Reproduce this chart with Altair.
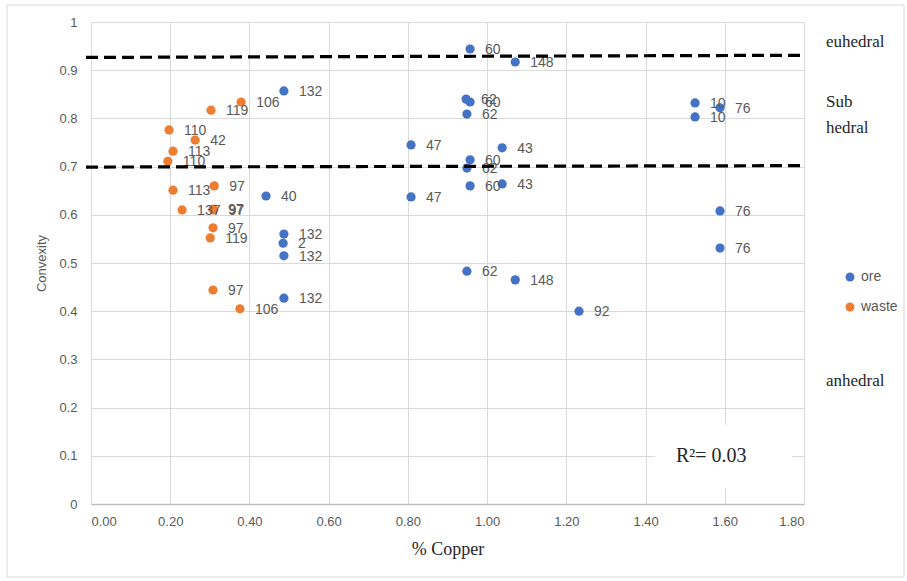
import altair as alt
import pandas as pd

# Ore samples: copper grade, convexity and sample number
ore_cu = [0.487, 0.442, 0.487, 0.485, 0.487, 0.487, 0.957, 1.071, 0.947, 0.957,
          0.949, 0.808, 1.038, 0.957, 0.949, 0.957, 1.038, 0.808, 0.949, 1.071,
          1.232, 1.525, 1.525, 1.588, 1.588, 1.588]
ore_cvx = [0.857, 0.639, 0.560, 0.541, 0.515, 0.427, 0.944, 0.917, 0.840, 0.834,
           0.809, 0.745, 0.739, 0.714, 0.697, 0.660, 0.664, 0.637, 0.483, 0.465,
           0.400, 0.832, 0.803, 0.822, 0.608, 0.531]
ore_lbl = ["132", "40", "132", "2", "132", "132", "60", "148", "62", "60",
           "62", "47", "43", "60", "62", "60", "43", "47", "62", "148",
           "92", "10", "10", "76", "76", "76"]

# Waste samples
waste_cu = [0.379, 0.303, 0.197, 0.263, 0.207, 0.194, 0.311, 0.207, 0.230, 0.308,
            0.310, 0.308, 0.301, 0.308, 0.376]
waste_cvx = [0.834, 0.817, 0.776, 0.755, 0.732, 0.711, 0.660, 0.651, 0.610, 0.612,
             0.610, 0.573, 0.552, 0.444, 0.405]
waste_lbl = ["106", "119", "110", "42", "113", "110", "97", "113", "137", "97",
             "97", "97", "119", "97", "106"]

# Crystal-habit boundaries (convexity at left and right ends of each dashed line)
bound_left = [0.9265, 0.699]
bound_right = [0.931, 0.702]

# Habit zone names and the convexity they sit at
zone_names = ["euhedral", "Sub", "hedral", "anhedral"]
zone_cvx = [0.958, 0.833, 0.781, 0.255]

r2_text = "R²= 0.03"
x_title = "% Copper"

series = ["ore", "waste"]
colors = ["#4472C4", "#ED7D31"]

df = pd.concat([
    pd.DataFrame({"cu": ore_cu, "cvx": ore_cvx, "lbl": ore_lbl, "type": "ore"}),
    pd.DataFrame({"cu": waste_cu, "cvx": waste_cvx, "lbl": waste_lbl, "type": "waste"}),
], ignore_index=True)

bounds = pd.DataFrame({"y1": bound_left, "y2": bound_right})
zones = pd.DataFrame({"name": zone_names, "cvx": zone_cvx})

SANS = "Liberation Sans"
SERIF = "Liberation Serif"
GRID = "#D9D9D9"

x_scale = alt.Scale(domain=[0, 1.8], nice=False, zero=True)
y_scale = alt.Scale(domain=[0, 1], nice=False)

x_enc = alt.X("cu:Q", scale=x_scale, axis=alt.Axis(
    title=None, values=[0, 0.2, 0.4, 0.6, 0.8, 1.0, 1.2, 1.4, 1.6, 1.8],
    format=".2f", grid=True, gridColor=GRID, ticks=False,
    domainColor="#BFBFBF", domainWidth=1.5, labelPadding=11))
y_enc = alt.Y("cvx:Q", scale=y_scale, axis=alt.Axis(
    title="Convexity", values=[i / 10 for i in range(11)], format=".1~f",
    grid=True, gridColor=GRID, ticks=False, domain=False,
    labelPadding=14, titlePadding=10))

base = alt.Chart(df)

points = base.mark_point(filled=True, shape="circle", size=85, opacity=1).encode(
    x=x_enc, y=y_enc,
    color=alt.Color("type:N", scale=alt.Scale(domain=series, range=colors),
                    legend=alt.Legend(title=None, orient="none", legendX=752, legendY=248,
                                      symbolType="circle", symbolSize=80,
                                      labelFont=SANS, labelFontSize=14, labelColor="#595959",
                                      labelOffset=4, rowPadding=16)),
)

labels = base.mark_text(align="left", baseline="middle", dx=15, dy=1,
                        font=SANS, fontSize=14, color="#595959").encode(
    x=alt.X("cu:Q", scale=x_scale),
    y=alt.Y("cvx:Q", scale=y_scale),
    text="lbl:N")

dashes = alt.Chart(bounds).mark_rule(color="black", strokeWidth=3.2,
                                     strokeDash=[12, 6]).encode(
    x=alt.value(-5), x2=alt.value(715),
    y=alt.Y("y1:Q", scale=y_scale), y2=alt.Y2("y2:Q"))

zone_text = alt.Chart(zones).mark_text(align="left", baseline="middle",
                                       font=SERIF, fontSize=17, color="#262626").encode(
    x=alt.value(735), y=alt.Y("cvx:Q", scale=y_scale), text="name:N")

r2_box = alt.Chart(pd.DataFrame({"t": [r2_text]})).mark_rect(
    fill="white", stroke=None).encode(
    x=alt.value(564), x2=alt.value(701), y=alt.value(403), y2=alt.value(466))

r2_label = alt.Chart(pd.DataFrame({"t": [r2_text]})).mark_text(
    align="left", baseline="middle", font=SERIF, fontSize=20, color="#262626").encode(
    x=alt.value(585), y=alt.value(434), text="t:N")

# x-axis title drawn as serif text under the tick labels
x_title_mark = alt.Chart(pd.DataFrame({"t": [x_title]})).mark_text(
    align="center", baseline="middle", font=SERIF, fontSize=18, color="#262626").encode(
    x=alt.value(357), y=alt.value(528), text="t:N")

frame = alt.Chart(pd.DataFrame({"t": [0]})).mark_rect(
    fill=None, stroke="#D9D9D9", strokeWidth=1).encode(
    x=alt.value(-84), x2=alt.value(813), y=alt.value(-17), y2=alt.value(555))

chart = (
    alt.layer(frame, points, labels, dashes, r2_box, r2_label, zone_text, x_title_mark)
    .properties(
        width=713, height=482,
        autosize=alt.AutoSizeParams(type="none"),
        padding={"left": 91, "top": 22, "right": 103, "bottom": 77},
        background="white",
    )
    .configure_view(stroke=None)
    .configure_axisX(labelFont=SANS, labelFontSize=13, labelColor="#595959")
    .configure_axisY(labelFont=SANS, labelFontSize=13, labelColor="#595959",
                     titleFont=SANS, titleFontSize=13, titleFontWeight="normal",
                     titleColor="#595959")
)

chart.save("out.html", embed_options={"renderer": "svg", "actions": False})
